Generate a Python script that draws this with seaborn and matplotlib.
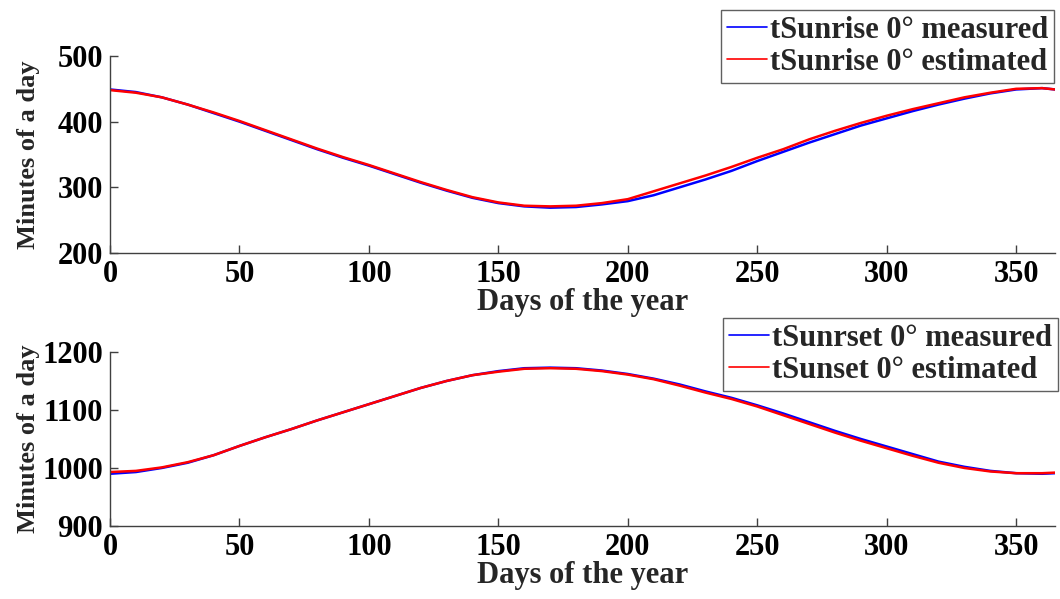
import numpy as np
import pandas as pd
import matplotlib
matplotlib.use('Agg')
import matplotlib.pyplot as plt
import seaborn as sns

# Dni roku (probki co 10 dni)
days = [0, 10, 20, 30, 40, 50, 60, 70, 80, 90, 100, 110, 120, 130, 140, 150, 160, 170, 180,
        190, 200, 210, 220, 230, 240, 250, 260, 270, 280, 290, 300, 310, 320, 330, 340, 350, 360, 365]

# Wschod slonca [min]
sunrise_measured = [449, 445, 437, 426, 413, 400, 386, 372, 358, 345, 333, 320, 307, 295, 284, 276, 271, 269, 270,
                    274, 279, 288, 300, 312, 325, 340, 354, 368, 381, 394, 405, 416, 426, 435, 443, 449, 451, 449]
sunrise_estimated = [448, 444, 437, 426, 414, 401, 387, 373, 359, 346, 334, 321, 308, 296, 285, 277, 272, 271, 272,
                     276, 282, 294, 306, 318, 331, 345, 358, 373, 386, 398, 409, 419, 428, 437, 444, 450, 451, 449]

# Zachod slonca [min]
sunset_measured = [990, 993, 1000, 1009, 1022, 1038, 1053, 1067, 1082, 1096, 1110, 1124, 1138, 1150, 1160, 1167, 1172, 1173, 1172,
                   1168, 1162, 1154, 1144, 1132, 1121, 1108, 1094, 1079, 1064, 1050, 1037, 1024, 1011, 1002, 995, 991, 990, 991]
sunset_estimated = [993, 995, 1001, 1010, 1022, 1038, 1053, 1067, 1082, 1096, 1110, 1124, 1138, 1150, 1160, 1166, 1171, 1172, 1171,
                    1167, 1161, 1153, 1142, 1130, 1119, 1106, 1091, 1076, 1061, 1047, 1034, 1021, 1009, 1000, 994, 991, 991, 992]

labels_top = ['tSunrise 0° measured', 'tSunrise 0° estimated']
labels_bottom = ['tSunrset 0° measured', 'tSunset 0° estimated']

sns.set_style('ticks')
plt.rcParams['font.family'] = ['Liberation Serif', 'DejaVu Serif']
plt.rcParams['font.weight'] = 'bold'
plt.rcParams['axes.labelweight'] = 'bold'
plt.rcParams['axes.edgecolor'] = '#404040'
plt.rcParams['xtick.color'] = '#404040'
plt.rcParams['ytick.color'] = '#404040'
plt.rcParams['xtick.labelcolor'] = 'black'
plt.rcParams['ytick.labelcolor'] = 'black'

FS = 22

df_top = pd.DataFrame({
    'day': days * 2,
    'value': sunrise_measured + sunrise_estimated,
    'series': [labels_top[0]] * len(days) + [labels_top[1]] * len(days),
})
df_bottom = pd.DataFrame({
    'day': days * 2,
    'value': sunset_measured + sunset_estimated,
    'series': [labels_bottom[0]] * len(days) + [labels_bottom[1]] * len(days),
})

fig = plt.figure(figsize=(10.6, 5.99), dpi=100)
ax1 = fig.add_axes([0.1038, 0.5776, 0.8915, 0.329])
ax2 = fig.add_axes([0.1038, 0.1219, 0.8915, 0.2905])

panels = [
    (ax1, df_top, labels_top, (200, 500), [200, 300, 400, 500], (1054 / 1060, 1 - 10 / 599)),
    (ax2, df_bottom, labels_bottom, (900, 1200), [900, 1000, 1100, 1200], (1058 / 1060, 1 - 318 / 599)),
]

for ax, df, labels, ylim, yticks, anchor in panels:
    sns.lineplot(data=df, x='day', y='value', hue='series', hue_order=labels,
                 palette=['#0000ff', '#ff0000'], linewidth=1.8, ax=ax)
    ax.set_xlim(0, 365)
    ax.set_ylim(*ylim)
    ax.set_xticks([0, 50, 100, 150, 200, 250, 300, 350])
    ax.set_yticks(yticks)
    ax.tick_params(direction='in', length=6, width=1, labelsize=FS, pad=5)
    for lab in ax.get_xticklabels() + ax.get_yticklabels():
        lab.set_fontweight('bold')
    ax.set_xlabel('Days of the year', fontsize=FS, fontweight='bold', labelpad=-1)
    ax.set_ylabel('Minutes of a day', fontsize=19, fontweight='bold')
    ax.yaxis.set_label_coords(-0.074, 0.5)
    sns.despine(ax=ax)
    for s in ['left', 'bottom']:
        ax.spines[s].set_linewidth(1)
    leg = ax.legend(loc='upper right', bbox_to_anchor=anchor, bbox_transform=fig.transFigure,
                    borderaxespad=0, prop={'weight': 'bold', 'size': FS},
                    handlelength=1.3, handletextpad=0.1, labelspacing=0.1, borderpad=0.2,
                    fancybox=False, framealpha=1, edgecolor='#606060')
    leg.get_frame().set_linewidth(1)
    for line in leg.get_lines():
        line.set_linewidth(1.2)

fig.savefig('out.png', dpi=100)
